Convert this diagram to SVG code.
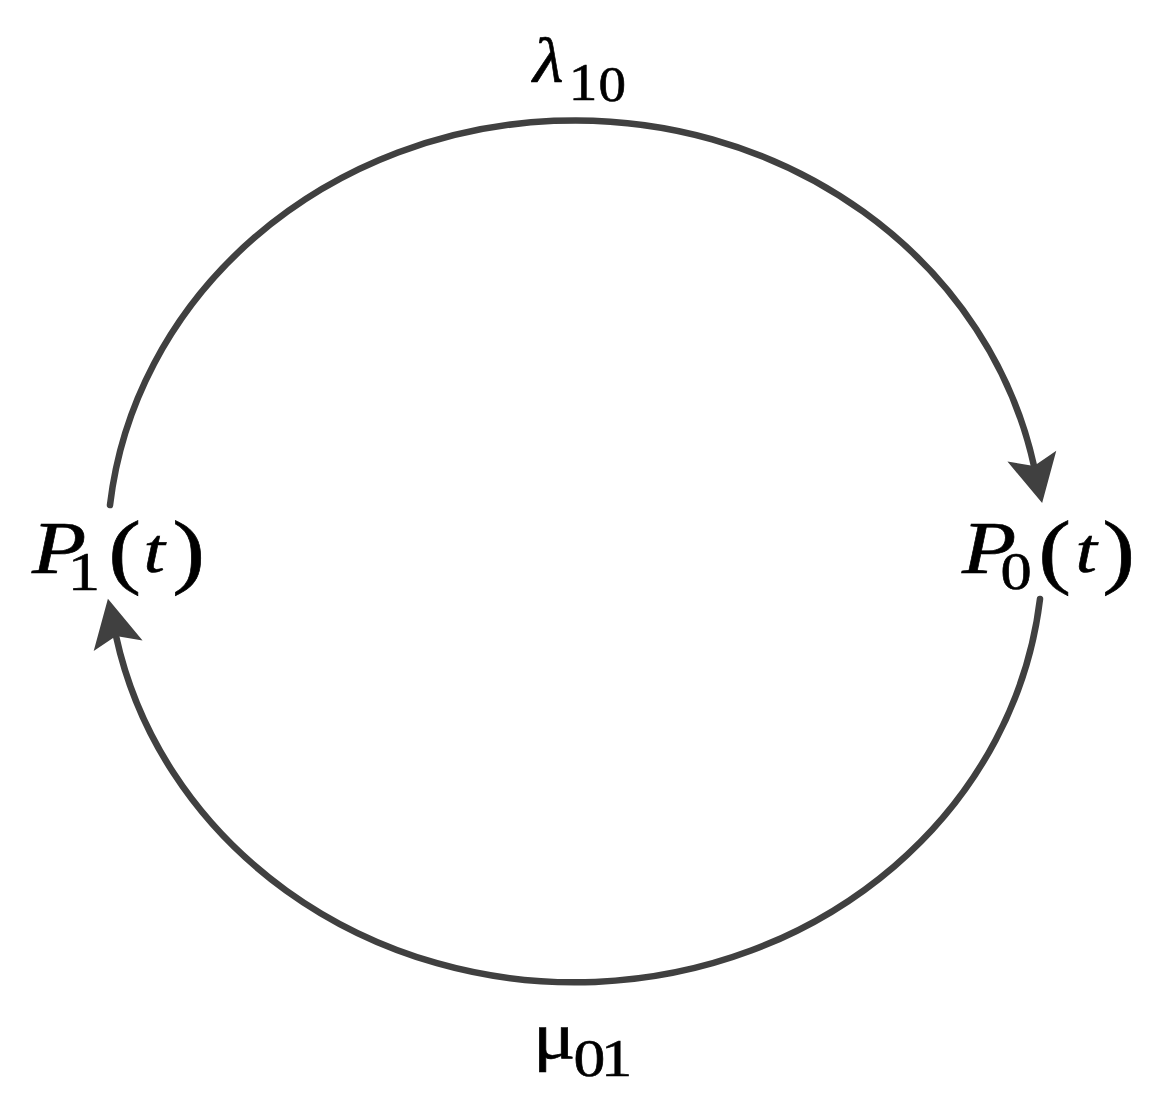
<svg xmlns="http://www.w3.org/2000/svg" width="1165" height="1112" viewBox="0 0 1165 1112">
<style>
.arc{fill:none;stroke:#404040;stroke-width:6.5;stroke-linecap:round}
text{font-family:"Liberation Serif","DejaVu Serif",serif;fill:#000;stroke:#000;stroke-width:0.6}
.it{font-style:italic}
</style>
<defs>
<marker id="ah" markerUnits="userSpaceOnUse" markerWidth="80" markerHeight="80" viewBox="-20 -40 80 80" refX="0" refY="0" orient="auto">
<path d="M38,0 L-10,-25 L0,0 L-10,25 Z" fill="#404040"/>
</marker>
</defs>
<rect width="1165" height="1112" fill="#fff"/>
<g id="connectors">
<path id="lambda-arc" class="arc" d="M110,505 A468,431 0 0 1 1034,466" marker-end="url(#ah)"/>
<path id="mu-arc" class="arc" d="M1040,599 A468,431 0 0 1 116,636" marker-end="url(#ah)"/>
</g>
<g id="node-p1">
<text transform="scale(1.2,1)"><tspan class="it" font-size="74" x="26.7" y="573">P</tspan><tspan font-size="54" x="56.5" y="590">1</tspan><tspan font-size="82" x="90.2" y="578">(</tspan><tspan class="it" font-size="64" x="119.6" y="572">t</tspan><tspan font-size="82" x="143.5" y="578">)</tspan></text>
</g>
<g id="node-p0">
<text transform="scale(1.2,1)"><tspan class="it" font-size="74" x="801.7" y="573">P</tspan><tspan font-size="52" x="833.75" y="589.3">0</tspan><tspan font-size="82" x="865.25" y="578">(</tspan><tspan class="it" font-size="64" x="896.25" y="572">t</tspan><tspan font-size="82" x="918.5" y="578">)</tspan></text>
</g>
<g id="label-lambda">
<text transform="scale(1.1,1)"><tspan class="it" font-size="64" x="484.5" y="82">λ</tspan><tspan font-size="52" x="517" y="100">1</tspan><tspan font-size="50" x="544.2" y="101.3">0</tspan></text>
</g>
<g id="label-mu">
<text transform="scale(1.2,1)"><tspan font-size="66" x="444.2" y="1058">μ</tspan><tspan font-size="53" x="477.9" y="1076.3">0</tspan><tspan font-size="52" x="500.9" y="1076">1</tspan></text>
</g>
</svg>
